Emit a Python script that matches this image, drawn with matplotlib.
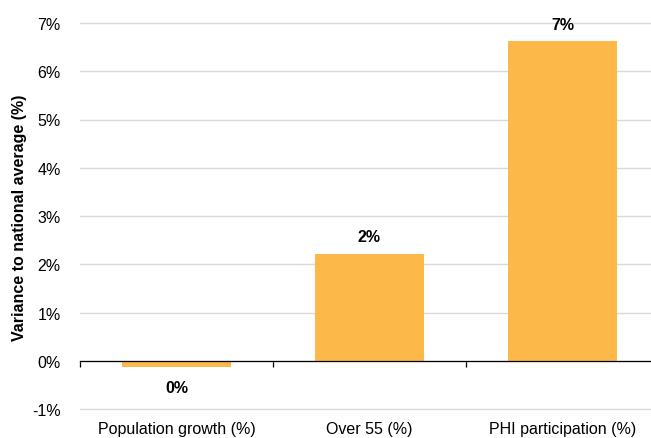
import matplotlib.pyplot as plt
import matplotlib.transforms as mtransforms
from matplotlib.ticker import FuncFormatter

plt.rcParams['font.family'] = ['Liberation Sans', 'DejaVu Sans']

categories = ['Population growth (%)', 'Over 55 (%)', 'PHI participation (%)']
variance = [-0.12, 2.22, 6.63]

bar_color = '#FDB84A'
grid_color = '#D9D9D9'
fs = 11.5

fig = plt.figure(figsize=(6.51, 4.39), dpi=100)
# plot area runs slightly past the right edge of the canvas
ax = fig.add_axes([80 / 651, 29 / 439, 579 / 651, 386 / 439])

x = list(range(len(categories)))
ax.bar(x, variance, width=0.56, color=bar_color, zorder=2)

ax.set_ylim(-1, 7)
ax.set_xlim(-0.5, 2.5)
ax.set_yticks(range(-1, 8))
ax.yaxis.set_major_formatter(FuncFormatter(lambda v, _: f'{v:.0f}%'))
ax.tick_params(axis='y', length=0, pad=14, labelsize=fs, colors='#000000')
ax.grid(axis='y', color=grid_color, linewidth=1, zorder=0)
for line in ax.get_ygridlines():
    line.set_clip_on(False)

for side in ['top', 'right', 'left']:
    ax.spines[side].set_visible(False)
ax.spines['bottom'].set_position(('data', 0))
ax.spines['bottom'].set_color('black')
ax.spines['bottom'].set_linewidth(0.9)
ax.spines['bottom'].set_zorder(3)

# category boundary ticks on the zero line
ax.set_xticks([-0.5, 0.5, 1.5, 2.5])
ax.set_xticklabels([])
ax.tick_params(axis='x', direction='out', length=4, width=0.9, color='black')

# category names sit under the plot area
trans = mtransforms.blended_transform_factory(ax.transData, ax.transAxes)
for xi, name in zip(x, categories):
    ax.text(xi, -0.051, name, transform=trans, ha='center', va='center',
            fontsize=fs)

# value labels
for xi, v in zip(x, variance):
    label = f'{abs(round(v)):.0f}%'
    if v < 0:
        label = f'{round(v):.0f}%' if round(v) != 0 else '0%'
    dy = 12 if v >= 0 else -15
    ax.annotate(label, (xi, v), xytext=(0, dy), textcoords='offset points',
                ha='center', va='center', fontsize=fs, fontweight='bold')

fig.text(20 / 651, (439 - 218) / 439, 'Variance to national average (%)',
         rotation=90, ha='center', va='center', fontsize=fs, fontweight='bold')

fig.savefig('out.png', dpi=100)
